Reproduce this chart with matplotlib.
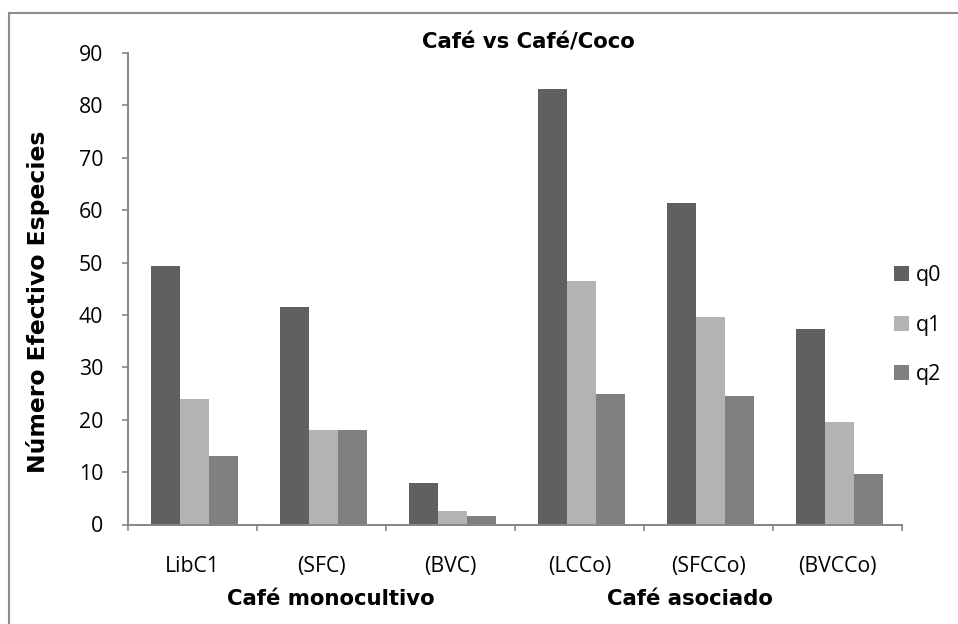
import matplotlib
matplotlib.use("Agg")
import matplotlib.pyplot as plt
from matplotlib.lines import Line2D
import numpy as np

categories = ["LibC1", "(SFC)", "(BVC)", "(LCCo)", "(SFCCo)", "(BVCCo)"]
series_names = ["q0", "q1", "q2"]
q0 = [49.3, 41.6, 7.9, 83.2, 61.3, 37.4]
q1 = [24.0, 18.1, 2.5, 46.5, 39.7, 19.5]
q2 = [13.1, 18.1, 1.6, 24.9, 24.5, 9.6]
colors = ["#606060", "#b3b3b3", "#808080"]
yticks = [0, 10, 20, 30, 40, 50, 60, 70, 80, 90]
title = "Café vs Café/Coco"
ylabel = "Número Efectivo Especies"
group_labels = ["Café monocultivo", "Café asociado"]

W, H = 958, 624
fig = plt.figure(figsize=(W / 100, H / 100), dpi=100)
fig.patch.set_facecolor("white")

def fx(px):
    return px / W

def fy(py):
    return 1 - py / H

ax = fig.add_axes([fx(128), fy(524.5), fx(902) - fx(128), fy(53) - fy(524.5)])
axis_col = "#868686"
reg = ["Open Sans", "DejaVu Sans"]
bold = ["DejaVu Sans"]

x = np.arange(len(categories))
bw = 0.224
for i, (vals, c, name) in enumerate(zip([q0, q1, q2], colors, series_names)):
    ax.bar(x + (i - 1) * bw + 0.015, vals, width=bw, color=c, label=name, linewidth=0)

ax.set_xlim(-0.5, len(categories) - 0.5)
ax.set_ylim(0, 90)
ax.set_yticks(yticks)
ax.set_yticklabels([str(t) for t in yticks], fontsize=15.3, family=reg, color="#000000")
ax.set_xticks(x)
ax.set_xticklabels(categories, fontsize=15.3, family=reg, color="#000000", va="baseline")
ax.set_xticks(np.arange(-0.5, len(categories) + 0.5, 1), minor=True)
ax.tick_params(axis="x", which="major", length=0, pad=34.5)
ax.tick_params(axis="x", which="minor", length=4.5, width=1.2, color=axis_col, direction="out")
ax.tick_params(axis="y", which="major", length=4.3, width=1.2, color=axis_col, direction="out", pad=13.5)

for s in ["top", "right"]:
    ax.spines[s].set_visible(False)
for s in ["left", "bottom"]:
    ax.spines[s].set_color(axis_col)
    ax.spines[s].set_linewidth(1.4)

fig.text(fx(528), fy(49), title, ha="center", va="baseline", fontsize=15.3,
         fontweight="bold", family=bold)
fig.text(fx(38), fy(302), ylabel, ha="center", va="center", rotation=90,
         fontsize=16.9, fontweight="bold", family=bold)
fig.text(fx(331), fy(605), group_labels[0], ha="center", va="baseline", fontsize=15.3,
         fontweight="bold", family=bold)
fig.text(fx(690), fy(605), group_labels[1], ha="center", va="baseline", fontsize=15.3,
         fontweight="bold", family=bold)

leg = ax.legend(loc="upper left", bbox_to_anchor=(fx(894), fy(265)),
                bbox_transform=fig.transFigure, frameon=False,
                prop={"family": reg, "size": 15.5},
                handlelength=0.7, handleheight=0.7, handletextpad=0.3,
                labelspacing=1.33, borderaxespad=0, borderpad=0)

# outer chart border
bc = "#8c8c8c"
fig.add_artist(Line2D([fx(9), fx(9)], [fy(13), 0], transform=fig.transFigure,
                      color=bc, linewidth=1.5))
fig.add_artist(Line2D([fx(9), 1], [fy(13), fy(13)], transform=fig.transFigure,
                      color=bc, linewidth=1.5))

fig.savefig("out.png", dpi=100, facecolor="white")
